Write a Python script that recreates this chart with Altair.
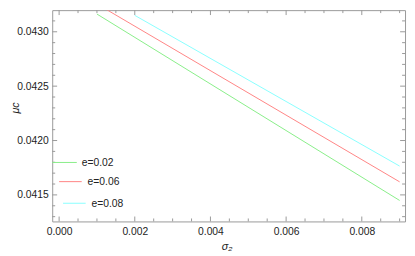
import altair as alt
import pandas as pd

# ---- data ----
series = ["e=0.02", "e=0.06", "e=0.08"]
colors = ["#88ee88", "#ff8484", "#88ffff"]

sigma2_e002 = [0.001, 0.009]
mu_e002 = [0.043163, 0.041449]
sigma2_e006 = [0.001, 0.009]
mu_e006 = [0.043256, 0.041620]
sigma2_e008 = [0.002, 0.009]
mu_e008 = [0.043151, 0.041765]

x_major = [0.000, 0.002, 0.004, 0.006, 0.008]
x_minor = [0.0005, 0.001, 0.0015, 0.0025, 0.003, 0.0035, 0.0045, 0.005,
           0.0055, 0.0065, 0.007, 0.0075, 0.0085, 0.009]
y_major = [0.0415, 0.0420, 0.0425, 0.0430]
y_minor = [0.0413, 0.0414, 0.0416, 0.0417, 0.0418, 0.0419, 0.0421, 0.0422,
           0.0423, 0.0424, 0.0426, 0.0427, 0.0428, 0.0429, 0.0431]

W, H = 359, 215
GRAY = "#999999"
FONT = "Liberation Sans"

xs = alt.Scale(domain=[-0.000182, 0.009143], nice=False, zero=False)
ys = alt.Scale(domain=[0.041256, 0.043199], nice=False, zero=False)

xaxis = alt.Axis(values=x_major, format=".3f", ticks=False, tickSize=0,
                 domain=False, grid=False, labelPadding=5,
                 title="σ₂", titleX=W / 2 - 2, titleY=26, titleBaseline="middle",
                 titleAlign="center", titleFontSize=11,
                 titleFontWeight="normal", titleFontStyle="italic")
yaxis = alt.Axis(values=y_major, format=".4f", ticks=False, tickSize=0,
                 domain=False, grid=False, labelPadding=4,
                 title="μc", titleX=-37, titleY=99, titleBaseline="middle",
                 titleAlign="center", titleAngle=270, titleFontSize=11,
                 titleFontWeight="normal", titleFontStyle="italic")

frames = []
for name, sx, sy in [(series[0], sigma2_e002, mu_e002),
                     (series[1], sigma2_e006, mu_e006),
                     (series[2], sigma2_e008, mu_e008)]:
    frames.append(pd.DataFrame({"sigma2": sx, "mu": sy, "series": name}))
df = pd.concat(frames, ignore_index=True)

lines = alt.Chart(df).mark_line(strokeWidth=1, clip=True).encode(
    x=alt.X("sigma2:Q", scale=xs, axis=xaxis),
    y=alt.Y("mu:Q", scale=ys, axis=yaxis),
    color=alt.Color("series:N", scale=alt.Scale(domain=series, range=colors),
                    legend=None),
    detail="series:N",
)

layers = [lines]


def xticks(vals, length, top):
    d = pd.DataFrame({"v": vals})
    if top:
        yy, yy2 = alt.value(0), alt.value(length)
    else:
        yy, yy2 = alt.value(H), alt.value(H - length)
    return alt.Chart(d).mark_rule(color=GRAY, strokeWidth=1).encode(
        x=alt.X("v:Q", scale=xs, axis=xaxis), y=yy, y2=yy2)


def yticks(vals, length, right):
    d = pd.DataFrame({"v": vals})
    if right:
        xx, xx2 = alt.value(W), alt.value(W - length)
    else:
        xx, xx2 = alt.value(0), alt.value(length)
    return alt.Chart(d).mark_rule(color=GRAY, strokeWidth=1).encode(
        y=alt.Y("v:Q", scale=ys, axis=yaxis), x=xx, x2=xx2)


for top in (False, True):
    layers.append(xticks(x_major, 5, top))
    layers.append(xticks(x_minor, 3, top))
for right in (False, True):
    layers.append(yticks(y_major, 5, right))
    layers.append(yticks(y_minor, 3, right))

# staggered legend (Mathematica style)
leg_pos = [(0, 25, 155, 30), (7, 30, 174.5, 36), (11, 34, 196.5, 40)]
for name, col, (x0, x1, yy, tx) in zip(series, colors, leg_pos):
    ld = pd.DataFrame({"s": [name]})
    layers.append(alt.Chart(ld).mark_rule(color=col, strokeWidth=1).encode(
        x=alt.value(x0), x2=alt.value(x1), y=alt.value(yy)))
    layers.append(alt.Chart(ld).mark_text(align="left", baseline="middle",
                                          font=FONT, fontSize=10.5, color="#222222").encode(
        x=alt.value(tx), y=alt.value(yy + 0.5), text="s:N"))

chart = alt.layer(*layers).properties(
    width=W, height=H,
    autosize=alt.AutoSizeParams(type="none"),
    padding={"left": 45, "top": 0, "right": 2, "bottom": 33},
).configure_view(stroke=GRAY, strokeWidth=1).configure_axis(
    labelFont=FONT, labelFontSize=10.5, labelColor="#222222",
    titleFont=FONT, titleColor="#222222",
)

chart.save("out.html", embed_options={"renderer": "svg", "actions": False})
